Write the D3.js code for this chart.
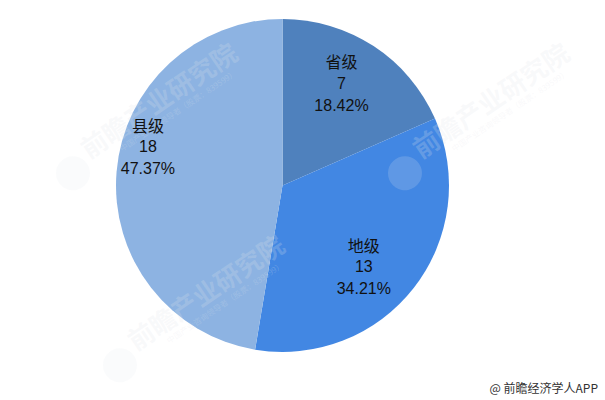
<!DOCTYPE html>
<html>
<head>
<meta charset="utf-8">
<script src="https://cdn.jsdelivr.net/npm/d3@7/dist/d3.min.js"></script>
<style>
html,body{margin:0;padding:0;background:#fff;}
svg{display:block;}
</style>
</head>
<body>
<svg id="chart" width="605" height="400"></svg>
<script>
// ---- data ----
const categories = ["省级", "地级", "县级"];
const values = [7, 13, 18];
const percentLabels = ["18.42%", "34.21%", "47.37%"];

// ---- styles / layout (not data) ----
const colors = ["#4f81bd", "#4287e3", "#8db3e2"];
const labelLayout = [ {angle: 30, r: 118}, {angle: 135, r: 115}, {angle: 286, r: 140} ];
const cx = 282.5, cy = 185.5, radius = 166.5;

const svg = d3.select("#chart");

const pie = d3.pie().sort(null).value(d => d);
const arcs = pie(values);
const arc = d3.arc().innerRadius(0).outerRadius(radius);

const g = svg.append("g").attr("transform", `translate(${cx},${cy})`);
g.selectAll("path").data(arcs).join("path")
  .attr("d", arc)
  .attr("fill", (d, i) => colors[i]);

// watermarks
const wm = [ [158, 99], [205, 291], [490, 99] ];
const wmg = svg.append("g");
wm.forEach(([x, y]) => {
  const w = wmg.append("g").attr("transform", `translate(${x},${y}) rotate(-34)`);
  w.append("text").attr("text-anchor", "middle").attr("dominant-baseline", "central")
    .attr("font-family", "Noto Sans CJK SC").attr("font-weight", "bold").attr("font-size", 26)
    .attr("fill", "#dfe4ea").attr("fill-opacity", 0.22).text("前瞻产业研究院");
  w.append("text").attr("x", 10).attr("y", 24).attr("text-anchor", "middle")
    .attr("font-family", "Noto Sans CJK SC").attr("font-size", 8)
    .attr("fill", "#dfe4ea").attr("fill-opacity", 0.22).text("中国产业咨询领导者（股票：839599）");
  w.append("circle").attr("cx", -112).attr("cy", 14).attr("r", 17)
    .attr("fill", "#e6e9ee").attr("fill-opacity", 0.18);
});

const lg = svg.append("g").attr("transform", `translate(${cx},${cy})`);
arcs.forEach((d, i) => {
  const a = labelLayout[i].angle * Math.PI / 180;
  const r = labelLayout[i].r;
  const x = r * Math.sin(a), y = -r * Math.cos(a);
  const t = lg.append("text").attr("text-anchor", "middle")
    .attr("font-family", "'Liberation Sans', 'Noto Sans CJK SC', sans-serif")
    .attr("font-size", 16).attr("fill", "#111");
  const lines = [categories[i], String(values[i]), percentLabels[i]];
  lines.forEach((s, k) => {
    t.append("tspan").attr("x", x).attr("y", y + (k - 1) * 22)
      .attr("dominant-baseline", "central")
      .attr("font-family", k === 0 ? "'Noto Sans CJK SC', sans-serif" : null)
      .text(s);
  });
});

svg.append("text").attr("x", 598).attr("y", 393).attr("text-anchor", "end")
  .attr("font-family", "'Noto Sans CJK SC', sans-serif").attr("font-size", 12)
  .attr("fill", "#333").text("@ 前瞻经济学人APP");
</script>
</body>
</html>
